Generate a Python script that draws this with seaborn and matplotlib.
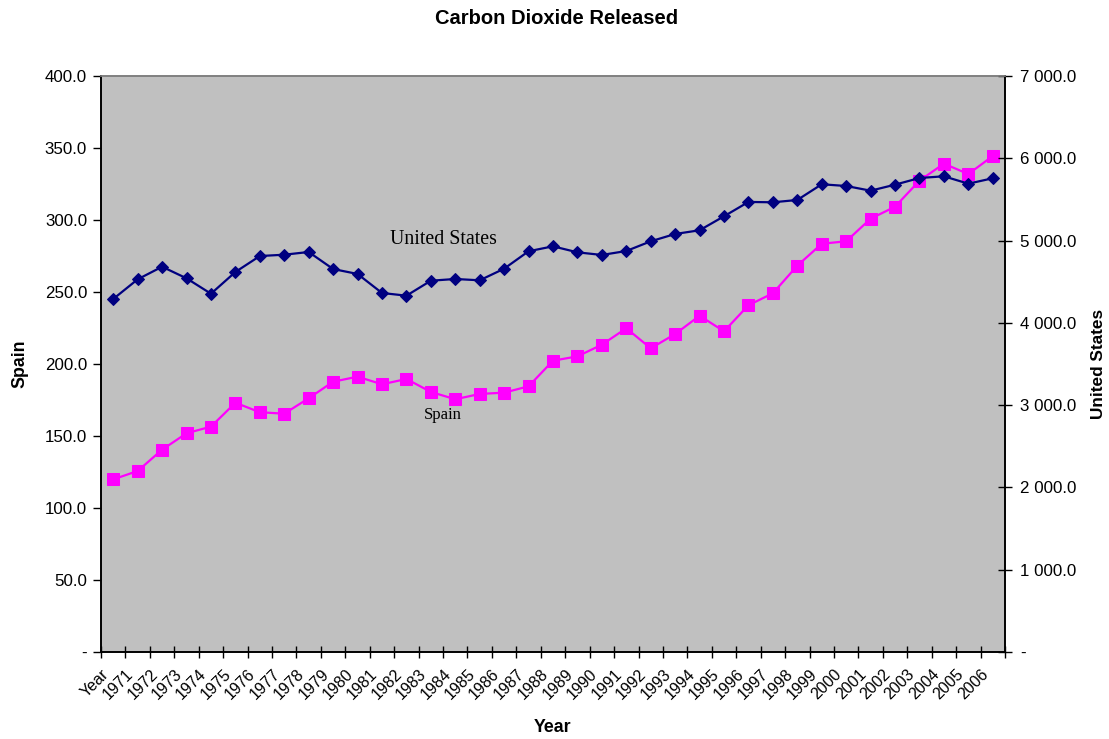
import numpy as np
import pandas as pd
import matplotlib
matplotlib.use("Agg")
import matplotlib.pyplot as plt
import seaborn as sns
from matplotlib.ticker import FuncFormatter, FixedLocator

# Category labels along the x axis
categories = ["Year"] + [str(y) for y in range(1971, 2007)]

# Spain CO2 released (left axis)
spain = [119.9, 125.7, 140.5, 151.9, 156.5, 173.1, 166.5, 165.5, 176.2, 187.7,
         191.2, 185.9, 189.6, 180.6, 175.5, 179.2, 180.1, 184.5, 202.3, 205.3,
         213.4, 224.8, 210.9, 220.8, 233.5, 222.7, 240.8, 249.1, 268.3, 283.5,
         285.2, 300.9, 309.2, 327.3, 339.1, 331.9, 344.4]

# United States CO2 released (right axis)
united_states = [4290, 4529, 4682, 4541, 4354, 4618, 4812, 4828, 4861, 4654,
                 4594, 4363, 4330, 4512, 4533, 4517, 4658, 4870, 4930, 4857,
                 4825, 4873, 4991, 5080, 5125, 5295, 5469, 5465, 5493, 5684,
                 5663, 5606, 5679, 5760, 5781, 5691, 5757]

df = pd.DataFrame({
    "pos": np.arange(len(categories)),
    "Year": categories,
    "Spain": spain,
    "United States": united_states,
})

sns.set_theme(style="white")
plt.rcParams["font.family"] = ["Liberation Sans", "DejaVu Sans"]
plt.rcParams["text.color"] = "black"
plt.rcParams["axes.labelcolor"] = "black"

fig = plt.figure(figsize=(11.09, 7.39), dpi=100)
ax = fig.add_axes([0.0911, 0.1177, 0.8151, 0.7795])
ax2 = ax.twinx()

ax.set_facecolor("#c0c0c0")
ax2.patch.set_visible(False)
ax.set_zorder(ax2.get_zorder() - 1)

# Spain series on the primary axis
sns.lineplot(data=df, x="pos", y="Spain", ax=ax, color="#ff00ff",
             marker="s", markersize=8, markeredgecolor="#ff00ff",
             linewidth=1.6, zorder=3)
# United States series on the secondary axis
sns.lineplot(data=df, x="pos", y="United States", ax=ax2, color="#000080",
             marker="D", markersize=6, markeredgecolor="#000080",
             linewidth=1.6, zorder=4)

n = len(categories)
ax.set_xlim(-0.5, n - 0.5)
ax.set_ylim(0, 400)
ax2.set_ylim(0, 7000)

# Category boundaries carry the tick marks and labels
bounds = np.arange(n + 1) - 0.5
ax.xaxis.set_major_locator(FixedLocator(bounds))
ax.set_xticklabels(categories + [""], rotation=45, ha="right", va="top",
                   rotation_mode="anchor", fontsize=11.5)
ax.tick_params(axis="x", direction="inout", length=9, width=1, pad=6,
               bottom=True, colors="black")

ax.set_yticks(np.arange(0, 401, 50))
ax.yaxis.set_major_formatter(FuncFormatter(
    lambda v, p: "-" if v == 0 else f"{v:.1f}"))
ax.tick_params(axis="y", direction="out", length=6, width=1, labelsize=12.2,
               left=True, colors="black", pad=4)

ax2.set_yticks(np.arange(0, 7001, 1000))
ax2.yaxis.set_major_formatter(FuncFormatter(
    lambda v, p: "-" if v == 0 else f"{v:,.1f}".replace(",", " ")))
ax2.tick_params(axis="y", direction="inout", length=10, width=1, labelsize=12.2,
                right=True, colors="black", pad=6)

for a in (ax, ax2):
    for side in ("left", "right", "top", "bottom"):
        a.spines[side].set_visible(True)
        a.spines[side].set_linewidth(1.2)
        a.spines[side].set_color("black")
    a.spines["top"].set_color("#808080")

ax.set_xlabel("Year", fontsize=12.8, fontweight="bold", labelpad=12)
ax.set_ylabel("Spain", fontsize=12.8, fontweight="bold", labelpad=12)
ax2.set_ylabel("United States", fontsize=12.4, fontweight="bold", labelpad=10)

fig.suptitle("Carbon Dioxide Released", x=0.502, y=0.988, fontsize=14.5,
             fontweight="bold", color="black")

# Series name annotations
ax2.text(13.5, 5010, "United States", fontsize=14.3, color="black",
         family=["Liberation Serif", "DejaVu Serif"], ha="center", va="center")
ax.text(13.5, 164.5, "Spain", fontsize=12, color="black",
        family=["Liberation Serif", "DejaVu Serif"], ha="center", va="center")

fig.savefig("out.png", dpi=100, facecolor="white")
